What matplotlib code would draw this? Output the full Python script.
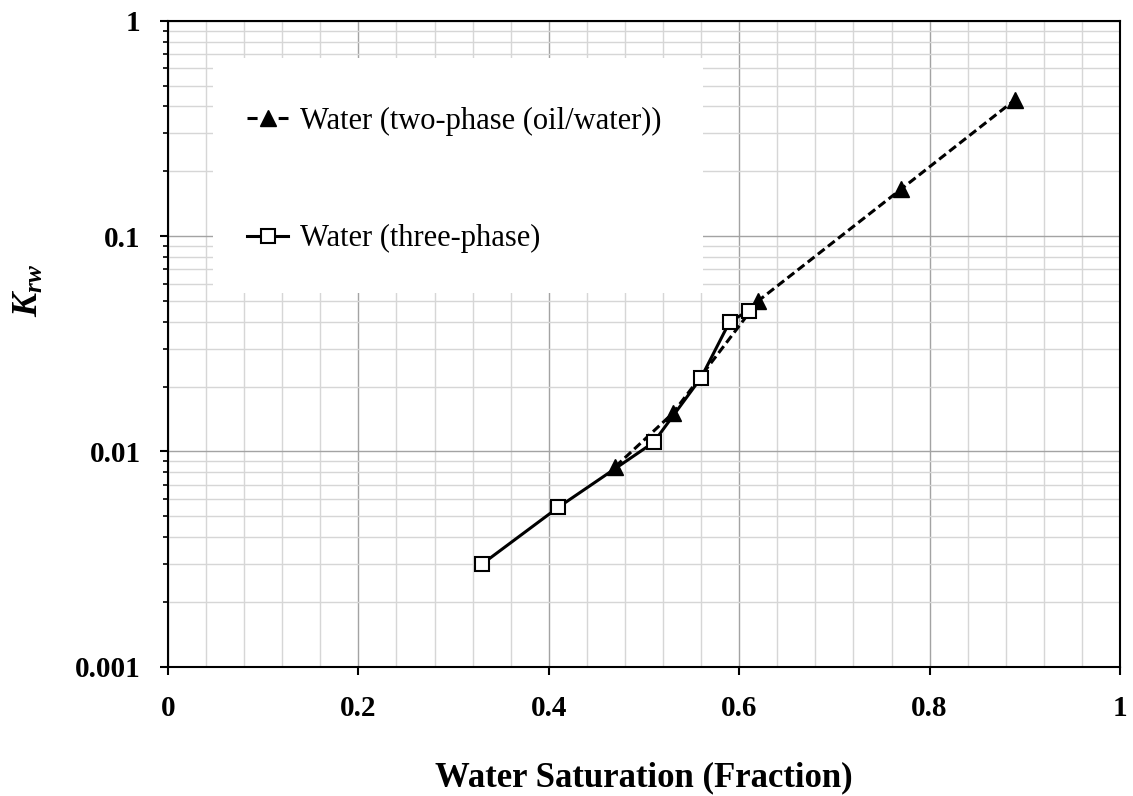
import matplotlib
matplotlib.use("Agg")
import matplotlib.pyplot as plt
from matplotlib.lines import Line2D
from matplotlib.ticker import MultipleLocator, LogLocator, NullFormatter, FixedLocator
from matplotlib.patches import Rectangle

# Relative permeability to water vs. water saturation
sw_two = [0.47, 0.53, 0.62, 0.77, 0.89]
krw_two = [0.0085, 0.015, 0.05, 0.165, 0.43]

sw_three = [0.33, 0.41, 0.51, 0.56, 0.59, 0.61]
krw_three = [0.003, 0.0055, 0.011, 0.022, 0.04, 0.045]

label_two = "Water (two-phase (oil/water))"
label_three = "Water (three-phase)"

x_ticks = [0, 0.2, 0.4, 0.6, 0.8, 1]
x_tick_labels = ["0", "0.2", "0.4", "0.6", "0.8", "1"]
y_ticks = [0.001, 0.01, 0.1, 1]
y_tick_labels = ["0.001", "0.01", "0.1", "1"]

plt.rcParams["font.family"] = ["Liberation Serif", "DejaVu Serif"]
plt.rcParams["mathtext.fontset"] = "custom"
plt.rcParams["mathtext.rm"] = "Liberation Serif:bold"
plt.rcParams["mathtext.it"] = "Liberation Serif:bold:italic"

fig = plt.figure(figsize=(11.33, 7.96), dpi=100)
ax = fig.add_axes([0.1483, 0.1624, 0.8402, 0.8116])

ax.set_xlim(0, 1)
ax.set_yscale("log")
ax.set_ylim(0.001, 1)

ax.xaxis.set_major_locator(FixedLocator(x_ticks))
ax.set_xticklabels(x_tick_labels)
ax.xaxis.set_minor_locator(MultipleLocator(0.04))
ax.yaxis.set_major_locator(FixedLocator(y_ticks))
ax.set_yticklabels(y_tick_labels)
ax.yaxis.set_minor_locator(LogLocator(base=10, subs=range(2, 10)))
ax.yaxis.set_minor_formatter(NullFormatter())

ax.set_axisbelow(True)
ax.grid(which="major", color="#a3a3a3", linewidth=1.0)
ax.grid(which="minor", color="#d6d6d6", linewidth=1.0)

ax.tick_params(axis="both", which="major", direction="out", length=5.8,
               width=1.5, labelsize=21, colors="black")
ax.tick_params(axis="x", which="major", pad=14.5)
ax.tick_params(axis="y", which="major", pad=14)
ax.tick_params(axis="x", which="minor", length=0)
ax.tick_params(axis="y", which="minor", direction="out", length=3.6, width=1.2)
for lbl in ax.get_xticklabels() + ax.get_yticklabels():
    lbl.set_fontweight("bold")

for sp in ax.spines.values():
    sp.set_linewidth(1.5)
    sp.set_color("black")

# white panel behind the legend
ax.add_patch(Rectangle((0.047, 0.578), 0.515, 0.364, transform=ax.transAxes,
                       facecolor="white", edgecolor="none", zorder=1))

two_style = dict(color="black", linewidth=2.2, marker="^", markersize=12,
                 markerfacecolor="black", markeredgecolor="black",
                 markeredgewidth=1.0)
three_style = dict(color="black", linewidth=2.2, linestyle="-", marker="s",
                   markersize=10, markerfacecolor="white",
                   markeredgecolor="black", markeredgewidth=1.5)

ax.plot(sw_two, krw_two, linestyle=(0, (2.8, 1.4)), zorder=3, **two_style)
ax.plot(sw_three, krw_three, zorder=4, **three_style)

# legend keys: short dash on each side of the marker
key_two = Line2D([], [], linestyle=(0, (3.3, 6.9)), **two_style)
key_three = Line2D([], [], **three_style)
ax.legend([key_two, key_three], [label_two, label_three],
          loc="upper left", bbox_to_anchor=(0.083, 0.867), frameon=False,
          fontsize=22, handlelength=1.34, handletextpad=0.39, labelspacing=2.9,
          borderpad=0, borderaxespad=0, numpoints=1)

ax.set_xlabel("Water Saturation (Fraction)", fontsize=25, fontweight="bold")
ax.xaxis.set_label_coords(0.5, -0.146)
ax.set_ylabel(r"$K_{rw}$", fontsize=26)
ax.yaxis.set_label_coords(-0.128, 0.583)

fig.savefig("out.png", dpi=100)
